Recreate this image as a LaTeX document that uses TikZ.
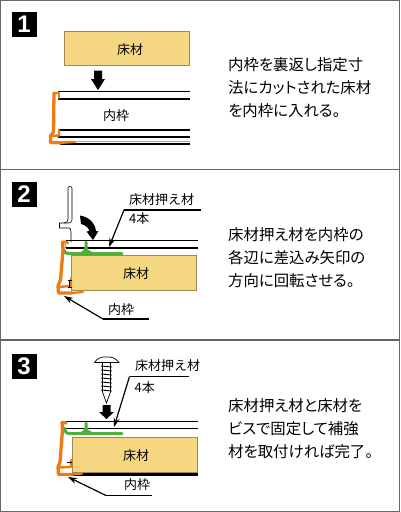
\documentclass[tikz,border=0pt]{standalone}
\usepackage{fontspec}
\setmainfont{Liberation Sans}
\newfontfamily\cjk{Noto Sans CJK JP}
\newfontfamily\cjkp[RawFeature=+palt]{Noto Sans CJK JP}
\usetikzlibrary{arrows.meta}
\definecolor{wood}{HTML}{F5D782}
\definecolor{woodedge}{HTML}{A08850}
\definecolor{frameor}{HTML}{EE7A14}
\definecolor{presgr}{HTML}{4FAE3C}
\definecolor{panelline}{HTML}{666666}
\tikzset{
 x=1pt,y=-1pt,
 numbox/.style={fill=black,text=white,minimum size=25pt,inner sep=0pt,font=\fontsize{24}{24}\selectfont\bfseries},
 woodbox/.style={fill=wood,draw=woodedge,line width=0.9pt,minimum height=0pt,inner sep=0pt},
 wlabel/.style={inner sep=0pt,font=\cjk\fontsize{13}{13}\selectfont},
 lbl/.style={inner sep=0pt,font=\cjk\fontsize{13}{13}\selectfont,anchor=west},
 desc/.style={inner sep=0pt,anchor=north west,align=left,font=\cjkp\fontsize{15.4}{23}\selectfont},
 rail/.style={line width=1.3pt,black},
 frameline/.style={line width=3.3pt,frameor,line join=round,line cap=round},
 pressline/.style={line width=3pt,presgr,line cap=round,line join=round},
 leader/.style={line width=1.2pt,black,-{Stealth[length=9pt,width=6pt]}},
 plainlead/.style={line width=1.2pt,black},
 bigdown/.style={fill=black}
}
\begin{document}
\begin{tikzpicture}
\useasboundingbox (0,0) rectangle (400,512);
\fill[white] (0,0) rectangle (400,512);
\draw[panelline,line width=1pt] (0.5,0.5) rectangle (399.5,511.5);
\draw[panelline,line width=1.2pt] (0,169.5) -- (400,169.5);
\draw[panelline,line width=1.2pt] (0,340) -- (400,340);
% ---- panel 1
\node[numbox] (n1) at (24,24) {1};
\node[woodbox,minimum width=125pt,minimum height=34pt] (w1) at (126.5,48.7) {};
\node[wlabel] (w1t) at (130,49.5) {床材};
\fill[bigdown] (94,70.5) -- (102,70.5) -- (102,79) -- (105,79) -- (98,90) -- (91,79) -- (94,79) -- cycle;
\draw[rail] (58,91.7) -- (190,91.7);
\draw[rail] (58,99) -- (190,99);
\draw[rail] (58,130) -- (190,130);
\draw[rail] (58,137) -- (190,137);
\draw[line width=1pt,black!35] (60,141) -- (190,141);
\draw[rail,line width=1.6pt] (60,144) -- (190,144);
\node[wlabel] (t1) at (116,116) {内枠};
\draw[frameline,line width=2.4pt] (59,98) -- (59,93) -- (54,93);
\draw[frameline] (54,93) -- (53.5,132) -- (50.5,136) -- (50.5,142.5) -- (62,142.8);
\draw[frameline,line width=2.2pt] (62,142.8) -- (75,142);
\draw[frameline,line width=2.4pt] (59,130) -- (59,135.5) -- (51,136);
\node[desc] (d1) at (228,57.5) {内枠を裏返し指定寸\\法にカットされた床材\\を内枠に入れる。};
% ---- panel 2
\node[numbox] (n2) at (24,194.5) {2};
\draw[line width=0.6pt,black] (68,219) -- (68,188) .. controls (68,186) and (72,186) .. (72,188) -- (72,220) .. controls (72,222) and (70,223) .. (69,223) -- (59.5,223) -- (59.5,228) -- (69,228) .. controls (70,228) and (71,229) .. (71,232) -- (71,242);
\draw[line width=0.6pt,black] (68,219) .. controls (68,221) and (67,223) .. (64,223);
\draw[rail] (66,240.8) -- (198,240.8);
\draw[rail] (66,248) -- (198,248);
\node[woodbox,minimum width=125pt,minimum height=34.5pt] (w2) at (134,273) {};
\node[wlabel] (w2t) at (136,274) {床材};
\draw[pressline] (64,250) .. controls (64,253) and (66,253.5) .. (70,253.5) -- (122,253.5);
\draw[pressline] (86,242) -- (86,247) .. controls (86,251) and (84,252) .. (82,253);
\draw[pressline] (86,247) .. controls (86,251) and (88,252) .. (91,253);
\draw[line width=0.6pt,black!60,fill=white] (64,246) circle (2pt);
\draw[frameline,line width=2.6pt] (68,243) .. controls (66,241.5) and (64,241.5) .. (62.5,242);
\draw[frameline] (62.5,242) -- (63,250) -- (60.5,280) -- (58,286) -- (58.5,293) -- (72,293);
\draw[frameline,line width=2.2pt] (72,293) -- (83,292);
\draw[frameline,line width=2.4pt] (71,278) -- (71,286) -- (58,287);
\draw[line width=0.7pt,black] (67.5,280) -- (71.5,280) (67.5,287) -- (71.5,287) (69.5,280) -- (69.5,287);
\fill[bigdown] (80,215.5) .. controls (89,217) and (95,223) .. (96,231) -- (98.5,231) -- (93,240) -- (86.5,231.5) -- (89.5,231) .. controls (88,227) and (85,225) .. (81,224) -- cycle;
\node[lbl] (l2a) at (129,199.5) {床材押え材};
\node[lbl] (l2b) at (129,219) {4本};
\coordinate (c2a) at (201,210);
\coordinate (c2b) at (124,210);
\coordinate (c2c) at (109,247);
\draw[plainlead] (c2a) -- (c2b);
\draw[leader] (c2b) -- (c2c);
\node[lbl] (l2c) at (108,309.5) {内枠};
\coordinate (c3a) at (149,319);
\coordinate (c3b) at (103,319);
\coordinate (c3c) at (64,296);
\draw[plainlead] (c3a) -- (c3b);
\draw[leader] (c3b) -- (c3c);
\node[desc] (d2) at (228,227) {床材押え材を内枠の\\各辺に差込み矢印の\\方向に回転させる。};
% ---- panel 3
\node[numbox] (n3) at (24,366) {3};
% screw
\draw[line width=0.7pt,black,fill=white] (94.5,362.5) .. controls (97,358) and (102,356.5) .. (106.5,357) .. controls (111,356.5) and (116,358) .. (119,362.5) -- cycle;
\foreach \yy in {366,370,374,378,382,386,390}{\draw[line width=0.9pt,black] (101,\yy) -- (112,\yy+1);}
\draw[line width=0.7pt,black] (102.5,362.5) -- (102.5,392) -- (106.5,403) -- (110.5,392) -- (110.5,362.5);
\fill[bigdown] (102.5,405) -- (110.5,405) -- (110.5,412) -- (114,412) -- (106.5,419) -- (99,412) -- (102.5,412) -- cycle;
\draw[rail] (66,421.5) -- (198,421.5);
\draw[rail] (66,428.5) -- (198,428.5);
\node[woodbox,minimum width=125pt,minimum height=35pt] (w3) at (134.5,454.5) {};
\node[wlabel] (w3t) at (136,456) {床材};
\fill[black] (66,472.5) rectangle (198,476);
\draw[pressline] (65,428) .. controls (65,432) and (66,433.5) .. (70,433.5) -- (122,433.5);
\draw[pressline] (86,423) -- (86,428) .. controls (86,431) and (84,432) .. (82,433);
\draw[pressline] (86,428) .. controls (86,431) and (88,432) .. (91,433);
\draw[frameline] (66,423) -- (62,422.5) -- (62.5,430) -- (60,462) -- (58,467) -- (58.5,474.5) -- (72,474.5);
\draw[frameline,line width=2.2pt] (72,474.5) -- (82,473.5);
\draw[frameline,line width=2.4pt] (71,460) -- (71,467) -- (58,467.5);
\draw[line width=0.7pt,black] (67,462) -- (71.5,462);
\node[lbl] (l3a) at (135,366) {床材押え材};
\node[lbl] (l3b) at (134.5,388) {4本};
\coordinate (c4a) at (189,376.5);
\coordinate (c4b) at (129.5,376.5);
\coordinate (c4c) at (114,427);
\draw[plainlead] (c4a) -- (c4b);
\draw[leader] (c4b) -- (c4c);
\node[lbl] (l3c) at (124,485) {内枠};
\coordinate (c5a) at (152,495.5);
\coordinate (c5b) at (106,495.5);
\coordinate (c5c) at (68,477);
\draw[plainlead] (c5a) -- (c5b);
\draw[leader] (c5b) -- (c5c);
\node[desc] (d3) at (228,398) {床材押え材と床材を\\ビスで固定して補強\\材を取付ければ完了。};
\end{tikzpicture}
\end{document}
